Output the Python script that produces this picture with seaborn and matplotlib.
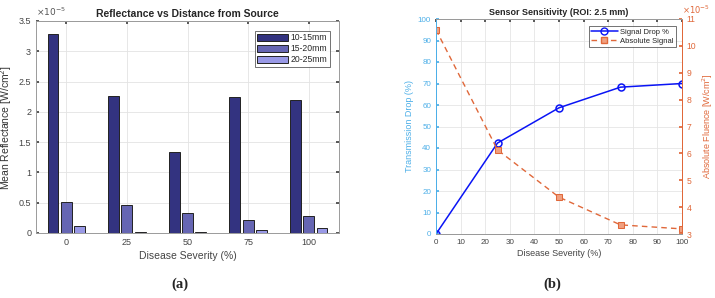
import numpy as np
import pandas as pd
import matplotlib
matplotlib.use("Agg")
import matplotlib.pyplot as plt
import seaborn as sns
from matplotlib.lines import Line2D
from matplotlib.ticker import FuncFormatter

# ---------------- data (reflectance / fluence in units of 1e-5 W/cm^2) ----------------
severity = ["0", "25", "50", "75", "100"]
dist_labels = ["10-15mm", "15-20mm", "20-25mm"]
refl_10_15 = [3.29, 2.26, 1.34, 2.24, 2.19]
refl_15_20 = [0.52, 0.47, 0.33, 0.21, 0.28]
refl_20_25 = [0.11, 0.02, 0.02, 0.05, 0.08]

sev_num = [0, 25, 50, 75, 100]
signal_drop = [0.0, 42.3, 58.7, 68.3, 70.0]
abs_signal = [10.6, 6.13, 4.37, 3.34, 3.19]

bar_colors = ["#333380", "#6666B3", "#9999E6"]
c_blue_axis = "#4DAFE8"
c_orange = "#E0683A"

sns.set_theme(style="white")
plt.rcParams["font.family"] = ["Liberation Sans", "DejaVu Sans"]
plt.rcParams["mathtext.fontset"] = "dejavusans"

gfmt = FuncFormatter(lambda v, p: f"{v:g}")

fig = plt.figure(figsize=(7.15, 2.98), dpi=100)

# ---------------- (a) ----------------
axa = fig.add_axes([36/715, 65/298, 303/715, 212/298])
df = pd.DataFrame({
    "Severity": severity * 3,
    "Distance": sum([[d] * 5 for d in dist_labels], []),
    "Value": refl_10_15 + refl_15_20 + refl_20_25,
})
sns.barplot(data=df, x="Severity", y="Value", hue="Distance", order=severity,
            hue_order=dist_labels, palette=bar_colors, width=0.66, gap=0.18,
            edgecolor="#222222", linewidth=0.7, ax=axa, errorbar=None, saturation=1)
axa.set_xlim(-0.5, 4.5)
axa.set_ylim(0, 3.5)
axa.set_yticks(np.arange(0, 3.51, 0.5))
axa.yaxis.set_major_formatter(gfmt)
axa.text(0.0, 1.012, r"$\times10^{-5}$", transform=axa.transAxes, fontsize=6.5,
         color="#555555", ha="left", va="bottom")
axa.set_xlabel("Disease Severity (%)", fontsize=7.5, color="#444444", labelpad=3)
axa.set_ylabel("Mean Reflectance [W/cm$^2$]", fontsize=7.5, color="#333333", labelpad=3)
axa.set_title("Reflectance vs Distance from Source", fontsize=7.5, fontweight="bold", pad=3)
axa.tick_params(axis="both", labelsize=6.5, colors="#444444", direction="in", length=2,
                left=True, bottom=True, right=True, top=True)
axa.grid(True, color="#E3E3E3", linewidth=0.6)
axa.set_axisbelow(True)
for s in axa.spines.values():
    s.set_color("#9A9A9A")
    s.set_linewidth(0.7)
leg = axa.legend(loc="upper right", fontsize=6.2, frameon=True, fancybox=False,
                 edgecolor="#333333", handlelength=3.6, handleheight=0.9,
                 borderpad=0.3, labelspacing=0.25, handletextpad=0.3,
                 bbox_to_anchor=(0.985, 0.975))
leg.get_frame().set_linewidth(0.6)

# ---------------- (b) ----------------
axb = fig.add_axes([436/715, 64/298, 246/715, 215/298])
axr = axb.twinx()
sns.lineplot(x=sev_num, y=signal_drop, ax=axb, color="#0A14F5", marker="o",
             markersize=5, markerfacecolor="none", markeredgecolor="#0A14F5",
             markeredgewidth=1.1, linewidth=1.1)
sns.lineplot(x=sev_num, y=abs_signal, ax=axr, color=c_orange, marker="s",
             markersize=4, markerfacecolor="#F0A080", markeredgecolor=c_orange,
             linewidth=1.0, linestyle=(0, (4, 3)))
axb.set_xlim(0, 100)
axb.set_ylim(0, 100)
axb.set_xticks(range(0, 101, 10))
axb.set_yticks(range(0, 101, 10))
axr.set_ylim(3, 11)
axr.set_yticks(range(3, 12))
axr.yaxis.set_major_formatter(gfmt)
axr.text(1.0, 1.012, r"$\times10^{-5}$", transform=axr.transAxes, fontsize=6,
         color=c_orange, ha="left", va="bottom")

axb.set_title("Sensor Sensitivity (ROI: 2.5 mm)", fontsize=6.5, fontweight="bold", pad=3)
axb.set_xlabel("Disease Severity (%)", fontsize=6.5, color="#444444", labelpad=2)
axb.set_ylabel("Transmission Drop (%)", fontsize=6.5, color=c_blue_axis, labelpad=3)
axr.set_ylabel("Absolute Fluence [W/cm$^2$]", fontsize=6.5, color=c_orange, labelpad=3)
axb.tick_params(axis="x", labelsize=5.8, colors="#444444", direction="in", length=2, top=True)
axb.tick_params(axis="y", labelsize=5.8, colors=c_blue_axis, direction="in", length=2)
axr.tick_params(axis="y", labelsize=6.2, colors=c_orange, direction="in", length=2)
axb.grid(True, color="#E5E5E5", linewidth=0.6)
axb.set_axisbelow(True)
for ax in (axb, axr):
    ax.spines["top"].set_color("#9A9A9A")
    ax.spines["bottom"].set_color("#9A9A9A")
    ax.spines["left"].set_color(c_blue_axis)
    ax.spines["right"].set_color(c_orange)
    for s in ax.spines.values():
        s.set_linewidth(0.7)

handles = [
    Line2D([], [], color="#0A14F5", marker="o", markerfacecolor="none",
           markeredgecolor="#0A14F5", markersize=5, linewidth=1.1),
    Line2D([], [], color=c_orange, marker="s", markerfacecolor="#F0A080",
           markeredgecolor=c_orange, markersize=4, linewidth=1.0, linestyle=(0, (4, 3))),
]
lb = axr.legend(handles, ["Signal Drop %", "Absolute Signal"], loc="upper right",
                fontsize=5.5, frameon=True, fancybox=False, edgecolor="#333333",
                handlelength=3.5, borderpad=0.3, labelspacing=0.2, handletextpad=0.3,
                bbox_to_anchor=(0.99, 0.985))
lb.get_frame().set_linewidth(0.6)

# ---------------- captions ----------------
fig.text(180/715, 1 - 284/298, "(a)", ha="center", va="center", fontsize=10.5,
         fontweight="bold", family=["Liberation Serif", "DejaVu Serif"])
fig.text(552/715, 1 - 284/298, "(b)", ha="center", va="center", fontsize=10.5,
         fontweight="bold", family=["Liberation Serif", "DejaVu Serif"])

fig.savefig("out.png", dpi=100)
